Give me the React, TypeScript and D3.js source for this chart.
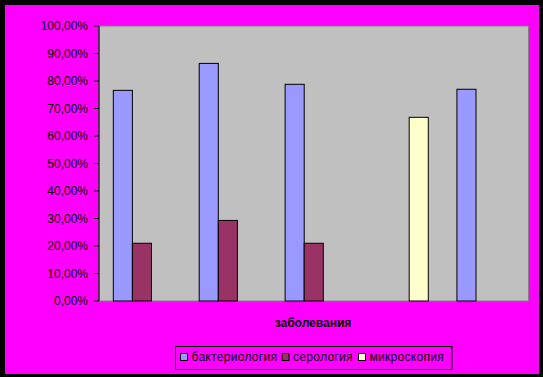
import React from "react";
import * as d3 from "d3";

const categories = ["1", "2", "3", "4", "5"];
const seriesNames = ["бактериология", "серология", "микроскопия"];
const bacteriology = [76.6, 86.4, 78.8, 0, 77.0];
const serology = [21.0, 29.3, 21.0, 0, 0];
const microscopy = [0, 0, 0, 66.8, 0];
const seriesColors = ["#9999FF", "#993366", "#FFFFCC"];
const yTicks = [0, 10, 20, 30, 40, 50, 60, 70, 80, 90, 100];
const axisTitle = "заболевания";

const W = 543;
const H = 377;
const plot = { left: 99, right: 528.5, top: 26, bottom: 301 };
const font = "'Liberation Sans', Arial, sans-serif";

export default function App() {
  const seriesValues = [bacteriology, serology, microscopy];
  const x0 = d3.scaleBand().domain(categories).range([plot.left, plot.right]).padding(0);
  const unit = x0.bandwidth() / 4.5;
  const x1 = d3.scaleBand().domain(seriesNames).range([0.75 * unit, 3.75 * unit]).padding(0);
  const y = d3.scaleLinear().domain([0, 100]).range([plot.bottom, plot.top]);
  const fmt = (v: number) => v.toFixed(2).replace(".", ",") + "%";

  const legendItems = [
    { sq: 180.5, tx: 191.5 },
    { sq: 282, tx: 293 },
    { sq: 358.5, tx: 369.5 },
  ];

  return (
    <svg width={W} height={H} style={{ position: "absolute", left: 0, top: 0 }}>
      <rect x={0} y={0} width={W} height={H} fill="#000" />
      <rect x={5} y={5} width={534} height={369} fill="#FF00FF" />
      <rect
        x={plot.left}
        y={plot.top}
        width={plot.right - plot.left}
        height={plot.bottom - plot.top}
        fill="#C0C0C0"
        stroke="#808080"
        strokeWidth={1}
      />
      {seriesValues.map((vals, si) =>
        vals.map((v, ci) =>
          v > 0 ? (
            <rect
              key={`${si}-${ci}`}
              x={(x0(categories[ci]) as number) + (x1(seriesNames[si]) as number)}
              y={y(v)}
              width={x1.bandwidth()}
              height={y(0) - y(v)}
              fill={seriesColors[si]}
              stroke="#000"
              strokeWidth={1}
            />
          ) : null
        )
      )}
      <line x1={plot.left} x2={plot.left} y1={plot.top} y2={plot.bottom} stroke="#000" strokeWidth={1} />
      {yTicks.map((t) => (
        <g key={t}>
          <line x1={plot.left - 5} x2={plot.left} y1={y(t)} y2={y(t)} stroke="#000" strokeWidth={1} />
          <text
            x={88}
            y={y(t) + 4}
            textAnchor="end"
            fontFamily={font}
            fontSize={12}
            fill="#000"
          >
            {fmt(t)}
          </text>
        </g>
      ))}
      <text
        x={313}
        y={327}
        textAnchor="middle"
        fontFamily={font}
        fontSize={12}
        fontWeight="bold"
        fill="#000"
      >
        {axisTitle}
      </text>
      <rect x={175.5} y={346.5} width={276.5} height={23} fill="none" stroke="#000" strokeWidth={1} />
      {seriesNames.map((name, i) => (
        <g key={name}>
          <rect
            x={legendItems[i].sq}
            y={353.5}
            width={7}
            height={7}
            fill={seriesColors[i]}
            stroke="#000"
            strokeWidth={1}
          />
          <text
            x={legendItems[i].tx}
            y={361}
            fontFamily={font}
            fontSize={12}
            letterSpacing={0.3}
            fill="#000"
          >
            {name}
          </text>
        </g>
      ))}
    </svg>
  );
}
